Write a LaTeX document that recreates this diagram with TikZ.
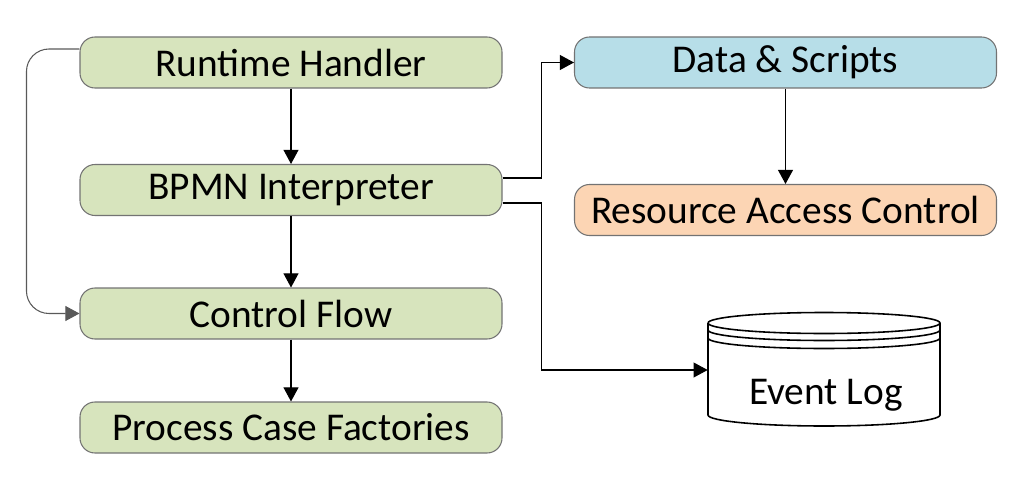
\documentclass[tikz,border=0pt]{standalone}
\usepackage{fontspec}
\setmainfont{Carlito}
\usepackage{tikz}
\usetikzlibrary{positioning, arrows.meta, calc}

\definecolor{modgreen}{HTML}{D7E4BD}
\definecolor{modblue}{HTML}{B7DEE8}
\definecolor{modorange}{HTML}{FCD5B4}

\begin{document}
\begin{tikzpicture}[>={Triangle[length=8pt, width=8.5pt]}, font=\fontsize{22.4}{26}\selectfont,
      module/.style={draw=black!55, line width=0.6pt, rounded corners=0.3cm, fill=modgreen, minimum width=8.44cm, minimum height=1.02cm, inner sep=0pt},
      store/.style={module, fill=modblue},
      access/.style={module, fill=modorange},
      dbbody/.style={minimum width=4.64cm, minimum height=2.26cm, inner sep=0pt},
      link/.style={->, line width=0.6pt}]
    \useasboundingbox (0,0) rectangle (20.7,-9.76);
    \node[module] (rh)  at (5.82,-1.25)  {Runtime Handler};
    \node[module] (bi)  at (5.82,-3.80)  {BPMN Interpreter};
    \node[module] (cf)  at (5.82,-6.27)  {Control Flow};
    \node[module] (pcf) at (5.82,-8.55)  {Process Case Factories};
    \node[store]  (ds)  at (15.71,-1.25) {Data \& Scripts};
    \node[access] (rac) at (15.71,-4.20) {Resource Access Control};
    \node[dbbody] (el)  at (16.48,-7.40) {};
    % event log cylinder
    \draw[line width=0.9pt, fill=white] (14.16,-6.46) -- (14.16,-8.30)
      arc[start angle=180, end angle=360, x radius=2.32, y radius=0.22]
      -- (18.80,-6.46) arc[start angle=0, end angle=180, x radius=2.32, y radius=0.21];
    \draw[line width=0.9pt] (14.16,-6.46) arc[start angle=180, end angle=360, x radius=2.32, y radius=0.21];
    \draw[line width=0.9pt] (14.16,-6.60) arc[start angle=180, end angle=360, x radius=2.32, y radius=0.21];
    \draw[line width=0.9pt] (14.16,-6.76) arc[start angle=180, end angle=360, x radius=2.32, y radius=0.21];
    \node (ellbl) at ($(el.center)+(0.04,-0.5)$) {Event Log};
    % connectors
    \draw[link] (rh) -- (bi);
    \draw[link] (bi) -- (cf);
    \draw[link] (cf) -- (pcf);
    \draw[link] (ds) -- (rac);
    \draw[link, draw=black!65, rounded corners=0.45cm] ([yshift=0.27cm]rh.west) -- ++(-1.06,0) |- (cf.west);
    \draw[link] ([yshift=0.24cm]bi.east) -- ++(0.78,0) |- (ds.west);
    \draw[link] ([yshift=-0.26cm]bi.east) -- ++(0.78,0) |- (el.west);
  \end{tikzpicture}
\end{document}
